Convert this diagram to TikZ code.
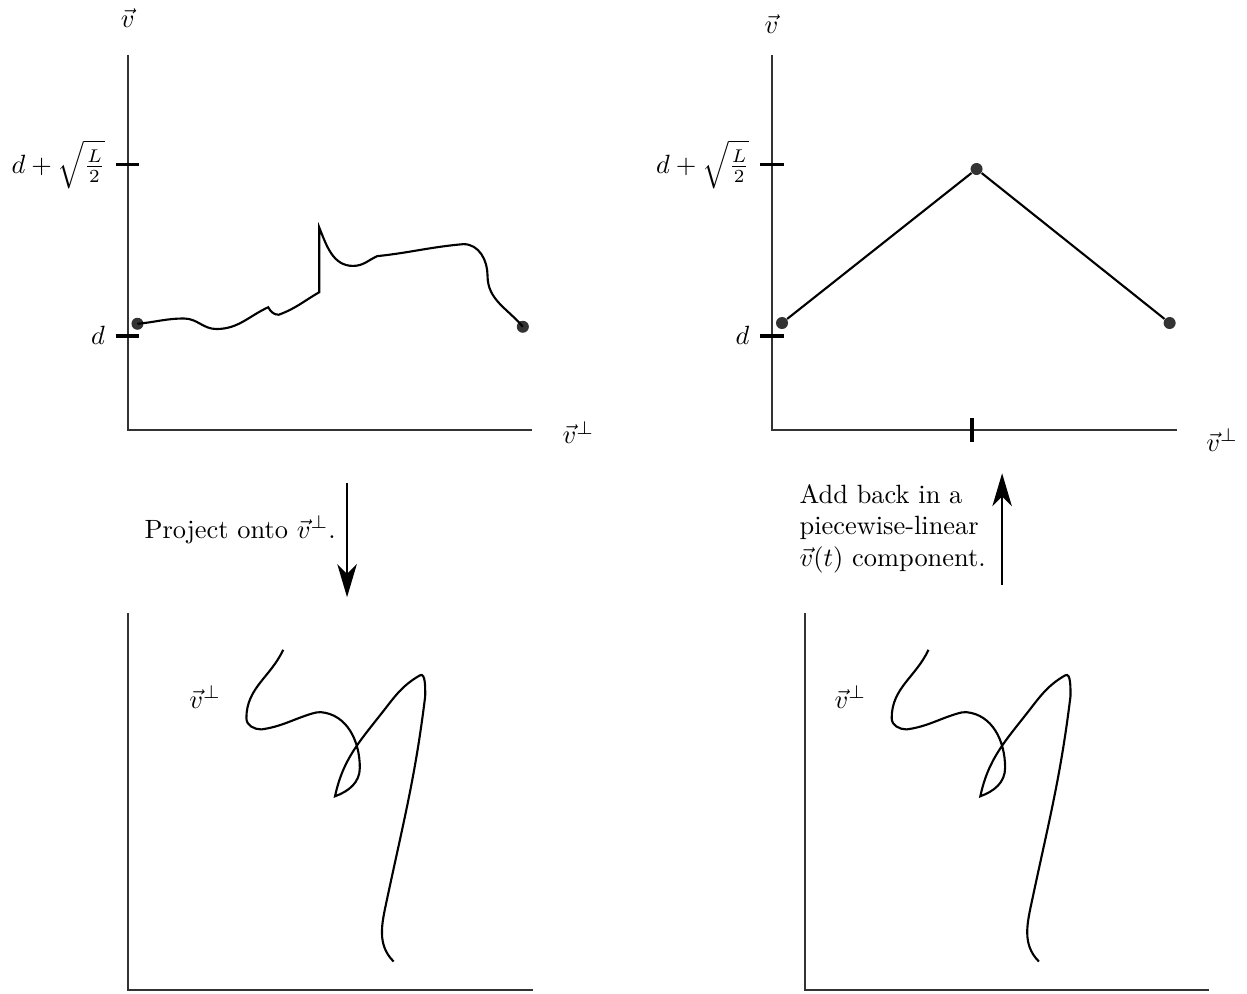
\documentclass[tikz,border=0pt]{standalone}
\usepackage{amsmath,amssymb}
\usetikzlibrary{arrows.meta, positioning, calc}

\begin{document}
\begin{tikzpicture}[
  axisline/.style={black!80, line width=0.7pt},
  tickmark/.style={black, line width=1.5pt},
  trajline/.style={black, line width=0.8pt},
  dot/.style={circle, fill=black!80, inner sep=0pt, minimum size=0.16cm},
  bigarrow/.style={-{Stealth[length=4.4mm,width=2.6mm,inset=1.3mm]}, line width=0.8pt}
]
\useasboundingbox (0,0) rectangle (16.60,13.22);
% Top left: v against v-perp, wiggly path
\draw[axisline] (1.70,12.49) -- (1.70,7.50) -- (7.08,7.50);
\node (tl-v) at (1.70,12.98) {$\vec v$};
\node (tl-vp) at (7.70,7.46) {$\vec v^{\perp}$};
\draw[tickmark] (1.54,11.03) -- (1.85,11.03) node[pos=0, left] (tl-hi) {$d+\sqrt{\frac{L}{2}}$};
\draw[tickmark] (1.54,8.75) -- (1.85,8.75) node[pos=0, left] (tl-lo) {$d$};
\node[dot] (tl-start) at (1.83,8.91) {};
\node[dot] (tl-end) at (6.96,8.87) {};
\draw[trajline] (tl-start.center) to[out=5,in=180] (2.45,8.98) to[out=0,in=180] (2.88,8.84)
  to[out=0,in=-155] (3.57,9.13) to[out=-60,in=180] (3.71,9.03) to[out=20,in=-150] (4.25,9.33)
  -- (4.25,10.19) to[out=-68,in=180] (4.70,9.68) to[out=0,in=-155] (5.02,9.81)
  to[out=6,in=185] (6.17,9.97) to[out=0,in=90] (6.49,9.55) to[out=-90,in=130] (tl-end.center);

% Top right: piecewise-linear v(t)
\draw[axisline] (10.28,12.49) -- (10.28,7.50) -- (15.67,7.50);
\node (tr-v) at (10.27,12.90) {$\vec v$};
\node (tr-vp) at (16.27,7.36) {$\vec v^{\perp}$};
\draw[tickmark] (10.12,11.03) -- (10.43,11.03) node[pos=0, left] (tr-hi) {$d+\sqrt{\frac{L}{2}}$};
\draw[tickmark] (10.12,8.75) -- (10.43,8.75) node[pos=0, left] (tr-lo) {$d$};
\draw[tickmark] (12.94,7.65) -- (12.94,7.34);
\node[dot] (tr-a) at (10.41,8.92) {};
\node[dot] (tr-b) at (13.00,10.97) {};
\node[dot] (tr-c) at (15.57,8.92) {};
\draw[trajline] (tr-a) -- (tr-b) -- (tr-c);

% Arrows between the rows
\coordinate (proj-top) at (4.62,6.79);
\coordinate (proj-bot) at (4.62,5.27);
\draw[bigarrow] (proj-top) -- (proj-bot);
\node[anchor=west] (proj-text) at (1.80,6.17) {Project onto $\vec v^{\perp}$.};
\coordinate (add-bot) at (13.34,5.43);
\coordinate (add-top) at (13.34,6.92);
\draw[bigarrow] (add-bot) -- (add-top);
\node[anchor=west, align=left] (add-text) at (10.52,6.18) {Add back in a\\piecewise-linear\\$\vec v(t)$ component.};

% Bottom left: projected path
\draw[axisline] (1.70,5.06) -- (1.70,0.04) -- (7.10,0.04);
\node (bl-vp) at (2.73,3.94) {$\vec v^{\perp}$};
\draw[trajline] (3.77,4.57) to[out=-115,in=90] (3.28,3.66) to[out=-90,in=180] (3.48,3.51)
  to[out=8,in=-163] (4.15,3.72) to[out=17,in=180] (4.27,3.74) to[out=-5,in=90] (4.79,3.00)
  to[out=-90,in=20] (4.46,2.62) to[out=78,in=-128] (5.10,3.75) to[out=52,in=-150] (5.59,4.23)
  to[out=30,in=90,looseness=0.8] (5.66,3.95)
  to[out=-97,in=78] (5.15,1.24) to[out=-102,in=135] (5.24,0.42);

% Bottom right: same projected path
\draw[axisline] (10.72,5.06) -- (10.72,0.04) -- (16.10,0.04);
\begin{scope}[xshift=8.59cm]
\node (br-vp) at (2.73,3.94) {$\vec v^{\perp}$};
\draw[trajline] (3.77,4.57) to[out=-115,in=90] (3.28,3.66) to[out=-90,in=180] (3.48,3.51)
  to[out=8,in=-163] (4.15,3.72) to[out=17,in=180] (4.27,3.74) to[out=-5,in=90] (4.79,3.00)
  to[out=-90,in=20] (4.46,2.62) to[out=78,in=-128] (5.10,3.75) to[out=52,in=-150] (5.59,4.23)
  to[out=30,in=90,looseness=0.8] (5.66,3.95)
  to[out=-97,in=78] (5.15,1.24) to[out=-102,in=135] (5.24,0.42);
\end{scope}
\end{tikzpicture}
\end{document}
